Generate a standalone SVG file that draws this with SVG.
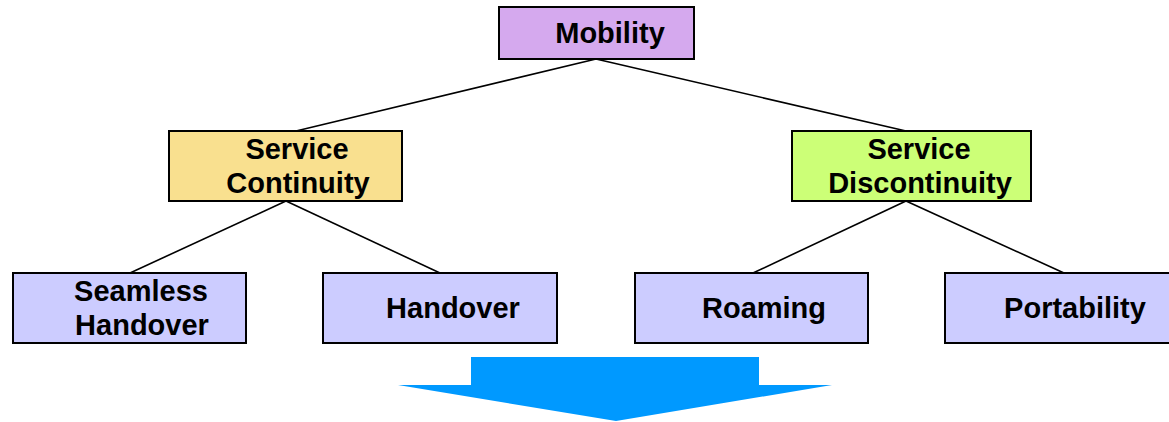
<svg xmlns="http://www.w3.org/2000/svg" width="1169" height="422" viewBox="0 0 1169 422">
  <style>
    .box { stroke: #000; stroke-width: 2; }
    .lbl { font-family: "Liberation Sans", Arial, sans-serif; font-weight: bold; font-size: 29px; fill: #000; text-anchor: middle; }
    .link { stroke: #000; stroke-width: 1.6; fill: none; }
  </style>
  <rect width="1169" height="422" fill="#fff"/>
  <g id="connectors">
    <line class="link" x1="596" y1="59" x2="296" y2="131"/>
    <line class="link" x1="596" y1="59" x2="906" y2="131"/>
    <line class="link" x1="286" y1="201" x2="130" y2="273"/>
    <line class="link" x1="286" y1="201" x2="440" y2="273"/>
    <line class="link" x1="906" y1="201" x2="753" y2="273"/>
    <line class="link" x1="906" y1="201" x2="1064" y2="273"/>
  </g>
  <g id="mobility">
    <rect class="box" x="499" y="7" width="195" height="52" fill="#D5A9EE"/>
    <text class="lbl" x="610" y="43">Mobility</text>
  </g>
  <g id="service-continuity">
    <rect class="box" x="169" y="131" width="233" height="70" fill="#F9E08F"/>
    <text class="lbl" x="297" y="159">Service</text>
    <text class="lbl" x="298" y="193">Continuity</text>
  </g>
  <g id="service-discontinuity">
    <rect class="box" x="792" y="131" width="239" height="70" fill="#CCFF77"/>
    <text class="lbl" x="919" y="159">Service</text>
    <text class="lbl" x="920" y="193">Discontinuity</text>
  </g>
  <g id="seamless-handover">
    <rect class="box" x="13" y="273" width="233" height="70" fill="#CCCCFF"/>
    <text class="lbl" x="141" y="301">Seamless</text>
    <text class="lbl" x="142" y="335">Handover</text>
  </g>
  <g id="handover">
    <rect class="box" x="323" y="273" width="234" height="70" fill="#CCCCFF"/>
    <text class="lbl" x="453" y="318">Handover</text>
  </g>
  <g id="roaming">
    <rect class="box" x="635" y="273" width="233" height="70" fill="#CCCCFF"/>
    <text class="lbl" x="764" y="318">Roaming</text>
  </g>
  <g id="portability">
    <rect class="box" x="945" y="273" width="230" height="70" fill="#CCCCFF"/>
    <text class="lbl" x="1075" y="318">Portability</text>
  </g>
  <g id="down-arrow">
    <polygon points="471,357 759,357 759,385 832,385 616,421 398,385 471,385" fill="#0099FF"/>
  </g>
</svg>
